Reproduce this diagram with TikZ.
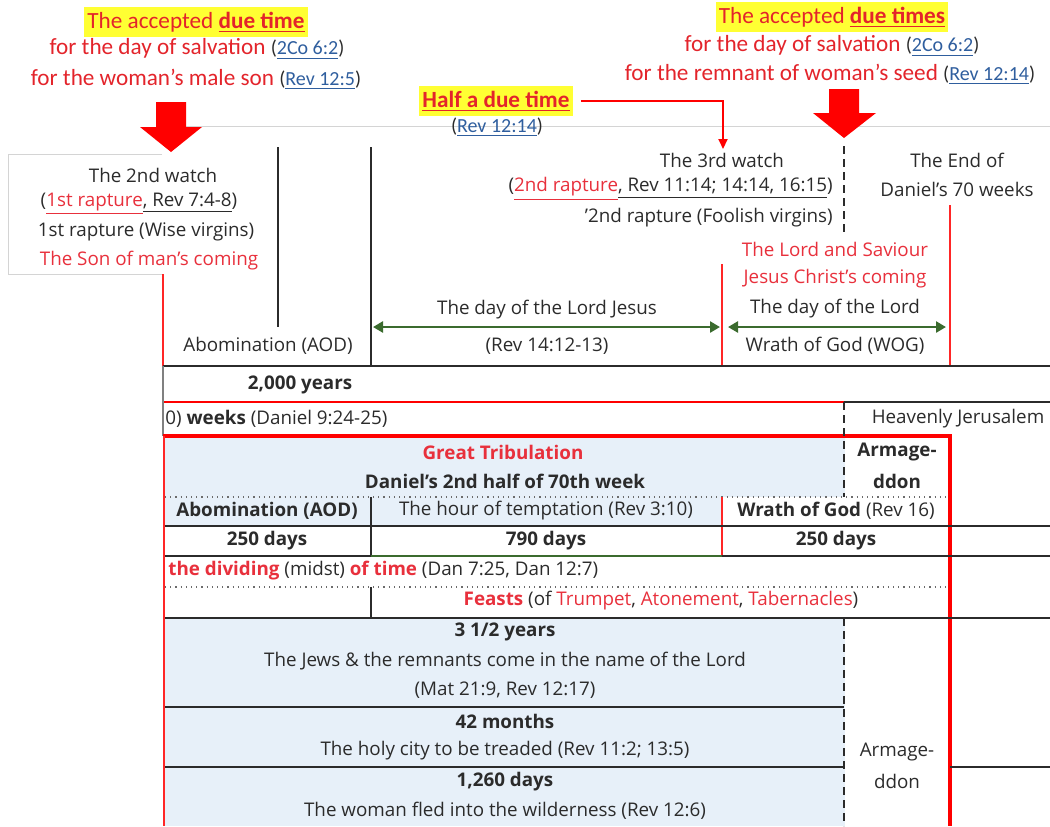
\documentclass[tikz,border=0pt]{standalone}
\usepackage{fontspec}
\setmainfont{Open Sans}
\newfontfamily\notefont{Carlito}
\usepackage{xcolor}
\definecolor{mark-red}{HTML}{E3242B}
\definecolor{text-red}{HTML}{E8303C}
\definecolor{ink}{HTML}{2B2B2B}
\definecolor{link-blue}{HTML}{2F5E9E}
\definecolor{cell-blue}{HTML}{E7F0F9}
\definecolor{arrow-green}{HTML}{3B6B2E}
\definecolor{hi-yellow}{HTML}{FFFF33}
\definecolor{rule-gray}{HTML}{D4D4D4}
\usetikzlibrary{arrows.meta}

\newcommand{\uln}[1]{\underline{#1}}
\newcommand{\bibref}[1]{{\fontsize{10}{12}\selectfont\textcolor{ink}{(}\textcolor{link-blue}{\uln{#1}}\textcolor{ink}{)}}}
\newcommand{\redtxt}[1]{\textcolor{text-red}{#1}}

\begin{document}
\begin{tikzpicture}[x=0.5pt, y=-0.5pt,
    every node/.style={inner sep=0pt, text=ink, font=\fontsize{9.4}{11}\selectfont},
    boldtxt/.style={font=\fontsize{9.4}{11}\selectfont\bfseries},
    note/.style={font=\notefont\fontsize{11.6}{14}\selectfont, text=mark-red},
    hilite/.style={fill=hi-yellow, inner xsep=1.5pt, inner ysep=2.5pt},
    rowline/.style={draw=ink, line width=0.8pt},
    dotline/.style={draw=ink!70, line width=0.6pt, dotted},
    thickred/.style={draw=red, line width=1.6pt},
    thinred/.style={draw=red!85, line width=0.8pt},
    cutline/.style={draw=ink, line width=1.4pt, dash pattern=on 4pt off 2.5pt},
    greenspan/.style={{Triangle[length=5pt,width=5.5pt]}-{Triangle[length=5pt,width=5.5pt]},
                      draw=arrow-green, line width=1.4pt},
  ]
  \useasboundingbox (0,0) rectangle (1050,826);

  % cell fills
  \fill[cell-blue] (165,437) rectangle (845,497);
  \fill[cell-blue] (165,497) rectangle (722,526);
  \fill[cell-blue] (165,618) rectangle (845,826);

  % frame of the upper part
  \draw[rule-gray] (163,126) -- (1050,126);
  \draw[rule-gray] (162,154) -- (8,154) -- (8,274) -- (162,274);

  % big red arrows
  \fill[red] (156,102) -- (186,102) -- (186,127) -- (202,127) -- (171,152)
    -- (140,127) -- (156,127) -- cycle;
  \fill[red] (829,89) -- (859,89) -- (859,113) -- (876,113) -- (844,138)
    -- (813,113) -- (829,113) -- cycle;

  % upper dividers
  \draw[ink, line width=0.8pt] (278,147) -- (278,327);
  \draw[ink, line width=0.8pt] (371,147) -- (371,366);
  \draw[thinred] (163,274) -- (163,366);
  \draw[thinred] (722,264) -- (722,366);
  \draw[thinred] (950,205) -- (950,366);
  \draw[cutline] (844,146) -- (844,232);

  % table lines
  \draw[ink, line width=1.3pt] (163,366) -- (1050,366);
  \draw[red, line width=1.2pt] (163,402) -- (844,402);
  \draw[ink, line width=1.3pt] (844,402) -- (1050,402);
  \draw[ink!60, line width=0.6pt] (163,366) -- (163,436);
  \draw[thickred] (163,436) -- (950,436) -- (950,826);
  \draw[thinred, line width=1.2pt] (164,436) -- (164,826);
  \draw[cutline] (844,402) -- (844,497);
  \draw[dotline] (165,497) -- (950,497);
  \draw[rowline] (371,497) -- (371,556);
  \draw[thinred] (722,497) -- (722,556);
  \draw[rowline] (165,526) -- (1050,526);
  \draw[rowline] (165,556) -- (1050,556);
  \draw[arrow-green, line width=1pt] (371,556) -- (722,556);
  \draw[dotline] (165,587) -- (950,587);
  \draw[rowline] (371,587) -- (371,618);
  \draw[rowline] (165,618) -- (1050,618);
  \draw[cutline] (844,618) -- (844,826);
  \draw[rowline] (165,707) -- (844,707);
  \draw[rowline] (165,767) -- (844,767);
  \draw[rowline] (950,767) -- (1050,767);

  % notes above
  \node[note, hilite] (due1) at (196,22) {The accepted \textbf{\uln{due time}}};
  \node[note] (salv1) at (197,49) {for the day of salvation \bibref{2Co 6:2}};
  \node[note] (son) at (196,79) {for the woman’s male son \bibref{Rev 12:5}};
  \node[note, hilite] (due2) at (832,17) {The accepted \textbf{\uln{due times}}};
  \node[note] (salv2) at (832,46) {for the day of salvation \bibref{2Co 6:2}};
  \node[note] (seed) at (830,74) {for the remnant of woman’s seed \bibref{Rev 12:14}};
  \node[note, hilite] (half) at (496,101) {\textbf{\uln{Half a due time}}};
  \node[note] (halfref) at (497,127) {\bibref{Rev 12:14}};
  \coordinate (w3top) at (723,149);
  \draw[red, line width=1pt, -{Triangle[length=5pt,width=4.5pt]}]
    ([xshift=4pt]half.east) -| (w3top);

  % watches
  \node (w2) at (153,175) {The 2nd watch};
  \node (w2ref) at (139,204) {(\redtxt{\uln{1st rapture}}\uln{, Rev 7:4-8})};
  \node (w2wise) at (146,232) {1st rapture (Wise virgins)};
  \node[text=text-red] (w2son) at (149,261) {The Son of man's coming};
  \node (w3) at (722,160) {The 3rd watch};
  \node[anchor=east] (w3ref) at (833,189) {(\redtxt{\uln{2nd rapture}}\uln{, Rev 11:14; 14:14, 16:15})};
  \node[anchor=east] (w3fool) at (833,218) {'2nd rapture (Foolish virgins)};
  \node (end1) at (957,160) {The End of};
  \node (end2) at (957,189) {Daniel's 70 weeks};
  \node[text=text-red] (lord1) at (835,249) {The Lord and Saviour};
  \node[text=text-red] (lord2) at (835,279) {Jesus Christ's coming};
  \node (dol) at (835,309) {The day of the Lord};
  \node (wog) at (835,346) {Wrath of God (WOG)};
  \node (dlj) at (547,310) {The day of the Lord Jesus};
  \node (dljref) at (547,346) {(Rev 14:12-13)};
  \node (aod) at (268,346) {Abomination (AOD)};

  \coordinate (dlj-w) at (373,327);
  \coordinate (dlj-e) at (720,327);
  \coordinate (dol-w) at (728,327);
  \coordinate (dol-e) at (946,327);
  \draw[greenspan] (dlj-w) -- (dlj-e);
  \draw[greenspan] (dol-w) -- (dol-e);

  % table texts
  \node[boldtxt] (years) at (300,385) {2,000 years};
  \node[anchor=west] (weeks) at (165,419) {0) \textbf{weeks} (Daniel 9:24-25)};
  \node (heaven) at (958,419) {Heavenly Jerusalem};
  \node[boldtxt, text=text-red] (trib) at (503,452) {Great Tribulation};
  \node[boldtxt] (half70) at (505,481) {Daniel's 2nd half of 70th week};
  \node[boldtxt] (arm1a) at (897,452) {Armage-};
  \node[boldtxt] (arm1b) at (897,481) {ddon};
  \node[boldtxt] (aod2) at (267,511) {Abomination (AOD)};
  \node (hour) at (546,511) {The hour of temptation (Rev 3:10)};
  \node (wrath) at (836,511) {\textbf{Wrath of God} (Rev 16)};
  \node[boldtxt] (d250a) at (267,541) {250 days};
  \node[boldtxt] (d790) at (546,541) {790 days};
  \node[boldtxt] (d250b) at (836,541) {250 days};
  \node[anchor=west] (midst) at (168,571)
    {\redtxt{\textbf{the dividing}} (midst) \redtxt{\textbf{of time}} (Dan 7:25, Dan 12:7)};
  \node (feasts) at (661,601)
    {\redtxt{\textbf{Feasts}} (of \redtxt{Trumpet}, \redtxt{Atonement}, \redtxt{Tabernacles})};
  \node[boldtxt] (y35) at (505,632) {3 1/2 years};
  \node (jews) at (505,661) {The Jews \& the remnants come in the name of the Lord};
  \node (jewsref) at (505,690) {(Mat 21:9, Rev 12:17)};
  \node[boldtxt] (m42) at (505,721) {42 months};
  \node (city) at (505,751) {The holy city to be treaded (Rev 11:2; 13:5)};
  \node[boldtxt] (d1260) at (505,782) {1,260 days};
  \node (woman) at (505,811) {The woman fled into the wilderness (Rev 12:6)};
  \node (arm2a) at (897,752) {Armage-};
  \node (arm2b) at (897,781) {ddon};
\end{tikzpicture}
\end{document}
